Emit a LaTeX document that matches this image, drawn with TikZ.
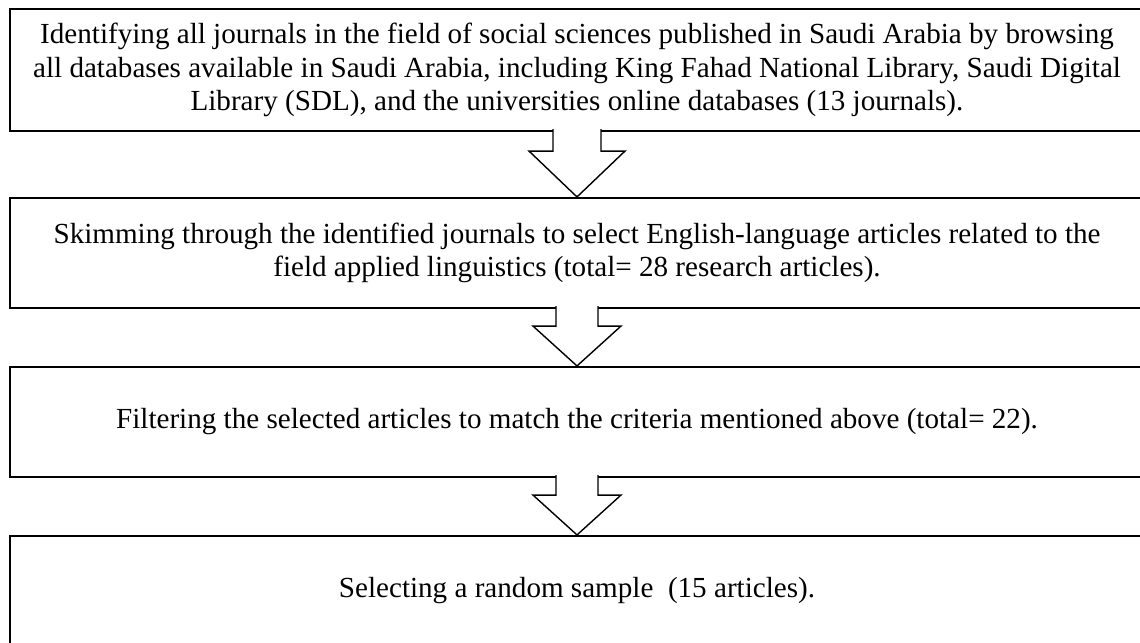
\documentclass[tikz,border=0pt]{standalone}
\usepackage{fontspec}
\setmainfont{Liberation Serif}
\usetikzlibrary{calc}
\tikzset{
  stepbox/.style={draw=black, line width=1.5pt, rectangle, minimum width=28.35cm,
    align=center, inner sep=0pt, font=\fontsize{20.7}{24}\selectfont},
  flowarrow/.style={draw=black, fill=white, line width=1pt, line join=miter},
}

\begin{document}
\begin{tikzpicture}[x=0.025cm, y=-0.025cm]
  \useasboundingbox (0,0) rectangle (1140,643);

  \node[stepbox, minimum height=3.05cm] (ident) at (577,70)
    {Identifying all journals in the field of social sciences published in Saudi Arabia by browsing\\
     all databases available in Saudi Arabia, including King Fahad National Library, Saudi Digital\\
     Library (SDL), and the universities online databases (13 journals).};
  \node[stepbox, minimum height=2.75cm] (skim) at (577,253)
    {Skimming through the identified journals to select English-language articles related to the\\
     field applied linguistics (total= 28 research articles).};
  \node[stepbox, minimum height=2.75cm] (filter) at (577,422)
    {Filtering the selected articles to match the criteria mentioned above (total= 22).};
  \node[stepbox, minimum height=2.75cm] (sample) at (577,591)
    {Selecting a random sample\ \ (15 articles).};

  % hollow block arrows between the steps
  \foreach \a/\b/\s/\w/\h in {ident/skim/19/24/48, skim/filter/17/21/44, filter/sample/17/21/44}
    \draw[flowarrow] ($(\a.south)+(-\w,-3)$) -- ++(0,\s+3) -- ++(\w-\h,0) -- (\b.north)
      -- ($(\a.south)+(\h,\s)$) -- ++(\w-\h,0) -- ++(0,-\s-3);
\end{tikzpicture}
\end{document}
